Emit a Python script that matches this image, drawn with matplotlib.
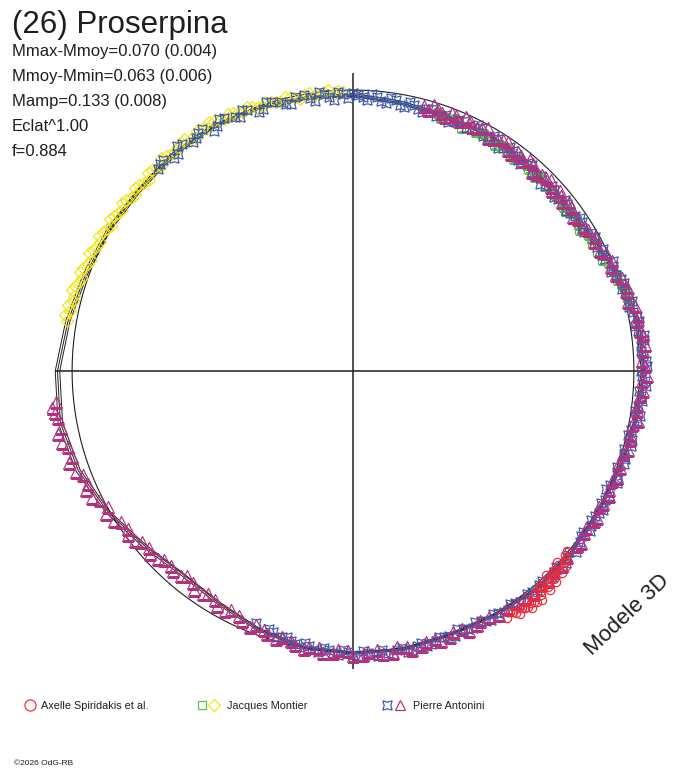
import matplotlib
matplotlib.use('Agg')
import matplotlib.pyplot as plt
import numpy as np
from matplotlib.lines import Line2D

plt.rcParams['font.family'] = ['Liberation Sans', 'DejaVu Sans']

# ---------------- data (phase angle in degrees, clockwise from top; radius relative to reference circle) -----
model_angle = [0, 10, 20, 30, 40, 50, 60, 70, 80, 90, 100, 110, 120, 130, 140, 150, 160, 170, 180,
               190, 200, 210, 220, 230, 240, 250, 260, 270, 280, 290, 300, 310, 320, 330, 340, 350, 360]
model_a = [.982, .970, .966, .970, .963, .960, .972, 1.004, 1.028, 1.032, 1.021, 1.011, 1.007, 1.011, 1.014,
           1.004, 1.000, 1.007, 1.004, 1.000, .979, .954, .943, .968, 1.006, 1.040, 1.058, 1.052, 1.030,
           1.012, 1.004, .996, 1.002, 1.003, .995, .985, .982]
model_b = [.988, .976, .971, .974, .967, .965, .978, 1.010, 1.034, 1.038, 1.026, 1.015, 1.011, 1.015, 1.018,
           1.009, 1.005, 1.011, 1.008, 1.004, .984, .960, .950, .975, 1.013, 1.048, 1.066, 1.060, 1.038,
           1.020, 1.011, 1.003, 1.008, 1.009, 1.001, .991, .988]
model_c = [.978, .965, .961, .965, .958, .956, .967, .998, 1.022, 1.027, 1.016, 1.007, 1.003, 1.007, 1.010,
           1.000, .996, 1.003, 1.000, .996, .975, .950, .940, .963, 1.000, 1.033, 1.050, 1.044, 1.023,
           1.006, .998, .990, .996, .998, .990, .980, .978]

ref_radius = 1.0
axis_extent = 1.06

# Pierre Antonini (blue), (angle, radius)
blue_pts = [
    (316, 1.000), (318, 1.012), (321, .992), (323, 1.010), (326, 1.000), (328, 1.016), (331, .998),
    (333, 1.012), (336, .990), (338, 1.004), (341, .985), (343, 1.000), (346, .980), (348, .998),
    (351, .984), (353, 1.000), (355, .978), (357, .995), (0, .990), (2, .975), (4, .988), (6, .968),
    (8, .982), (10, .962), (12, .978), (14, .960), (16, .972), (18, .956), (20, .970), (22, .958),
    (24, .976), (26, .963), (28, .978), (30, .960), (32, .974), (34, .957), (36, .969), (38, .954),
    (40, .967), (42, .951), (44, .965), (46, .949), (48, .964), (50, .954), (52, .967), (54, .957),
    (56, .974), (58, .961), (60, .980), (62, .970), (64, .990), (66, .982), (68, 1.000), (70, .995),
    (72, 1.015), (74, 1.008), (76, 1.025), (78, 1.018), (80, 1.035), (82, 1.025), (84, 1.040),
    (86, 1.028), (88, 1.042), (90, 1.025), (92, 1.040), (94, 1.022), (96, 1.035), (98, 1.015),
    (100, 1.028), (102, 1.010), (104, 1.022), (106, 1.005), (108, 1.018), (110, 1.002), (112, 1.016),
    (114, 1.000), (116, 1.014), (118, .998), (120, 1.012), (122, 1.000), (124, 1.016), (126, 1.002),
    (128, 1.018), (130, 1.004), (132, 1.020), (134, 1.006), (136, 1.018), (138, 1.008), (140, 1.020),
    (142, 1.006), (144, 1.016), (146, 1.000), (148, 1.012), (150, .998), (152, 1.008), (154, .994),
    (156, 1.006), (158, .992), (160, 1.004), (162, .995), (164, 1.012), (166, .998), (168, 1.014),
    (170, 1.000), (172, 1.016), (174, .998), (176, 1.014), (178, .996), (180, 1.012), (182, .994),
    (184, 1.008), (186, .990), (188, 1.002), (190, .985), (192, .995), (194, .976), (196, .985),
    (198, .965),
    (317, 1.008), (320, .990), (322, 1.018), (325, .995), (327, 1.010), (330, .988), (332, 1.015),
    (335, .996), (337, 1.008), (340, .982), (342, 1.006), (345, .990), (347, .975), (350, .996),
    (352, .972), (354, .990), (356, .968), (358, .985), (359, .972), (1, .984), (3, .966), (5, .980),
    (7, .962), (9, .978), (11, .956), (13, .972), (15, .953), (17, .975), (19, .960), (21, .948),
    (23, .970), (25, .953), (27, .982), (29, .956), (31, .976), (33, .948), (35, .973), (37, .960),
    (39, .946), (41, .970), (43, .956), (45, .943), (47, .968), (49, .946), (51, .970), (53, .948),
    (55, .963), (57, .973), (59, .958), (61, .984), (63, .974), (65, .978), (67, 1.004), (69, .985),
    (71, 1.008), (73, 1.000), (75, 1.018), (77, 1.010), (79, 1.030), (81, 1.018), (83, 1.045),
    (85, 1.030), (87, 1.035), (89, 1.048), (91, 1.030), (93, 1.045), (95, 1.028), (97, 1.022),
    (99, 1.035), (101, 1.018), (103, 1.005), (105, 1.025), (107, 1.010), (109, 1.020), (111, 1.005),
    (113, 1.020), (115, .995), (117, 1.008), (119, 1.018), (121, 1.004), (123, 1.010), (125, .998),
    (127, 1.012), (129, 1.022), (131, 1.010), (133, 1.024), (135, 1.012), (137, 1.025), (139, 1.010),
    (141, 1.012), (143, 1.022), (145, 1.008), (147, 1.015), (149, 1.005), (151, 1.012), (153, 1.000),
    (155, 1.010), (157, .998), (159, 1.010), (161, 1.000), (163, 1.005), (165, 1.015), (167, 1.005),
    (169, 1.018), (171, 1.005), (173, 1.010), (175, 1.018), (177, 1.005), (179, 1.016), (181, 1.002),
    (183, 1.014), (185, .998), (187, 1.008), (189, .992), (191, 1.000), (193, .988), (195, .980),
    (197, .972), (201, .962),
]

# Pierre Antonini (magenta triangles)
mag_pts = [
    (15, .975), (17, .990), (19, .970), (21, .985), (23, .968), (25, .982), (27, .972), (29, .988),
    (31, .965), (33, .980), (35, .962), (37, .978), (39, .960), (41, .975), (43, .958), (45, .972),
    (47, .962), (49, .975), (51, .958), (53, .970), (56, .965), (59, .978), (62, .975), (65, .995),
    (68, .992), (71, 1.012), (74, 1.015), (77, 1.030), (80, 1.025), (83, 1.040), (86, 1.035),
    (89, 1.040), (92, 1.030), (95, 1.025), (98, 1.022), (101, 1.010), (104, 1.015), (107, 1.005),
    (110, 1.010), (113, 1.002), (116, 1.012), (119, 1.000), (122, 1.010), (125, 1.004), (128, 1.014),
    (131, 1.008), (135, 1.012), (139, 1.010), (143, 1.012), (147, 1.005), (151, 1.000), (154, 1.008),
    (157, .996), (160, 1.006), (163, .996), (166, 1.010), (169, 1.000), (172, 1.012), (175, .998),
    (178, 1.010), (181, .996), (184, 1.006), (187, .992), (190, 1.004), (193, .986), (196, .992),
    (199, .975), (202, .982), (205, .962), (208, .968), (211, .952), (214, .958), (217, .945),
    (220, .952), (223, .948), (226, .965), (229, .962), (232, .985), (235, .978), (238, 1.005),
    (241, .998), (244, 1.032), (247, 1.025), (250, 1.050), (253, 1.045), (256, 1.066), (259, 1.060),
    (262, 1.072), (264, 1.064),
    (16, .968), (18, .980), (20, .962), (22, .978), (24, .990), (26, .965), (28, .978), (30, .958),
    (32, .972), (34, .985), (36, .955), (38, .970), (40, .982), (42, .952), (44, .968), (46, .978),
    (48, .955), (50, .968), (52, .975), (55, .958), (58, .970), (61, .985), (64, .978), (67, 1.002),
    (70, .998), (73, 1.020), (76, 1.010), (79, 1.035), (82, 1.030), (85, 1.045), (88, 1.030),
    (91, 1.045), (94, 1.035), (97, 1.018), (100, 1.030), (103, 1.012), (106, 1.020), (109, 1.002),
    (112, 1.015), (115, 1.005), (118, 1.008), (121, 1.015), (124, 1.000), (127, 1.018), (133, 1.018),
    (137, 1.020), (141, 1.022), (145, 1.010), (149, 1.012), (153, .998), (156, 1.012), (159, .994),
    (162, 1.010), (165, 1.000), (168, 1.015), (171, .996), (174, 1.012), (177, 1.000), (180, 1.014),
    (183, .994), (186, 1.008), (189, .996), (192, .998), (195, .982), (198, .985), (201, .968),
    (204, .975), (207, .955), (210, .965), (213, .945), (216, .962), (219, .940), (222, .958),
    (225, .952), (228, .972), (231, .968), (234, .992), (237, .985), (240, 1.015), (243, 1.010),
    (246, 1.040), (249, 1.030), (252, 1.062), (255, 1.050), (258, 1.075), (261, 1.062), (263, 1.078),
]

# Jacques Montier (yellow diamonds)
yel_pts = [
    (280, 1.035), (281, 1.045), (282, 1.030),
    (283, 1.040), (285, 1.030), (287, 1.035), (289, 1.022), (291, 1.028), (293, 1.015), (295, 1.022),
    (297, 1.010), (299, 1.018), (301, 1.005), (303, 1.015), (305, 1.002), (307, 1.010), (309, .998),
    (311, 1.008), (313, .995), (315, 1.010), (317, 1.000), (319, 1.015), (321, 1.005), (323, 1.018),
    (325, 1.008), (327, 1.020), (329, 1.010), (331, 1.018), (333, 1.005), (335, 1.012), (337, 1.000),
    (339, 1.008), (341, .995), (343, 1.002), (345, .990), (347, 1.000), (349, .988), (351, 1.002),
    (353, .992), (355, 1.005), (357, .998),
    (284, 1.028), (286, 1.042), (288, 1.025), (290, 1.035), (292, 1.018), (294, 1.030), (296, 1.012),
    (298, 1.025), (300, 1.010), (302, 1.020), (304, 1.008), (306, 1.018), (308, 1.002), (310, 1.015),
    (312, 1.000), (314, 1.014), (316, 1.004), (318, 1.020), (320, 1.010), (322, 1.012), (324, 1.022),
    (326, 1.002), (328, 1.015), (330, 1.022), (332, 1.010), (334, 1.018), (336, 1.004), (338, 1.012),
    (340, .998), (342, 1.008), (344, .995), (346, 1.004), (348, .992), (350, .998), (352, .988),
    (354, .998), (356, .990), (358, .995),
]

# Jacques Montier (green squares)
grn_pts = [
    (18, .965), (20, .958), (23, .962), (25, .955), (28, .960), (30, .952), (33, .958), (36, .950),
    (38, .958), (41, .952), (44, .955), (46, .948), (49, .955), (52, .950), (54, .958), (57, .955),
    (60, .965), (62, .962), (65, .978), (67, .985), (70, 1.000), (72, 1.005), (74, 1.015), (76, 1.018),
    (19, .952), (22, .968), (24, .948), (27, .955), (29, .965), (32, .948), (35, .960), (37, .945),
    (40, .958), (43, .945), (45, .960), (48, .948), (51, .958), (53, .946), (56, .962), (58, .950),
    (61, .970), (64, .968), (66, .972), (69, .990), (71, .995), (73, 1.008), (75, 1.010),
]

# Axelle Spiridakis et al. (red circles)
red_pts = [
    (131, 1.000), (132, 1.015), (133, .995), (134, 1.020), (135, 1.008), (136, 1.030), (137, 1.012),
    (138, 1.035), (139, 1.018), (140, 1.040), (141, 1.022), (142, 1.045), (143, 1.028), (144, 1.042),
    (145, 1.030), (146, 1.038), (147, 1.025), (138.5, 1.026), (141.5, 1.050), (143.5, 1.046),
    (134.5, 1.010), (136.5, 1.022),
    (130, .995), (131.5, 1.012), (132.5, 1.028), (133.5, 1.005), (134, 1.035), (135.5, 1.018),
    (136, 1.042), (137.5, 1.025), (138, 1.048), (139.5, 1.030), (140.5, 1.055), (141, 1.028),
    (142.5, 1.040), (143, 1.058), (144.5, 1.035), (145.5, 1.048), (146.5, 1.030), (148, 1.035),
    (136.5, 1.000), (139, 1.015),
]

info_lines = ["Mmax-Mmoy=0.070 (0.004)", "Mmoy-Mmin=0.063 (0.006)", "Mamp=0.133 (0.008)",
              "Eclat^1.00", "f=0.884"]

# ---------------- figure -----------------------------------------------------------------------------------
W, H = 688, 768
fig = plt.figure(figsize=(W / 100, H / 100), dpi=100)
fig.patch.set_facecolor('white')
ax = fig.add_axes([44 / W, 88 / H, 618 / W, 618 / H], projection='polar')
ax.set_theta_zero_location('N')
ax.set_theta_direction(-1)
ax.set_rlim(0, 1.1)
ax.set_axis_off()

rad = np.deg2rad
ink = '#1e1e1e'

# axes cross
for a in (0, 90, 180, 270):
    ax.plot([rad(a), rad(a)], [0, axis_extent], color=ink, lw=1.1, zorder=2, solid_capstyle='butt')

# reference circle
circ_t = np.deg2rad(np.arange(0, 361, 2))
ax.plot(circ_t, np.full(circ_t.shape, ref_radius), color=ink, lw=0.8, zorder=2)

# model curves
for m in (model_a, model_b, model_c):
    ax.plot(rad(np.array(model_angle)), m, color=ink, lw=0.7, zorder=3)

def split(pts):
    a = np.array([p[0] for p in pts], dtype=float)
    r = np.array([p[1] for p in pts], dtype=float)
    return rad(a), r

mew = 0.85
c_blue, c_mag, c_grn, c_yel, c_red = '#3a58ab', '#b4317f', '#5ebd4c', '#f1e414', '#ee2a36'
t, r = split(yel_pts)
ax.plot(t, r, ls='none', marker='D', ms=6, mfc='none', mec=c_yel, mew=mew, zorder=4)
t, r = split(grn_pts)
ax.plot(t, r, ls='none', marker='s', ms=6, mfc='none', mec=c_grn, mew=mew, zorder=4)
t, r = split(blue_pts)
ax.plot(t, r, ls='none', marker=(4, 1, 45), ms=9.5, mfc='none', mec=c_blue, mew=mew, zorder=5)
t, r = split(mag_pts)
ax.plot(t, r, ls='none', marker='^', ms=8.5, mfc='none', mec=c_mag, mew=mew, zorder=6)
t, r = split(red_pts)
ax.plot(t, r, ls='none', marker='o', ms=6, mfc='none', mec=c_red, mew=mew, zorder=7)

# ---------------- texts ------------------------------------------------------------------------------------
def fy(py):
    return 1 - py / H

fig.text(12 / W, fy(33), "(26) Proserpina", fontsize=22.5, color=ink, va='baseline', ha='left')
for i, s in enumerate(info_lines):
    fig.text(12 / W, fy(56 + 25 * i), s, fontsize=12, color=ink, va='baseline', ha='left')

fig.text(627 / W, fy(615), "Modele 3D", fontsize=16, color=ink, rotation=43.5,
         ha='center', va='center', rotation_mode='anchor')

# legend
leg_y = fy(705)
def fmark(px, marker, ms, col):
    fig.add_artist(Line2D([px / W], [leg_y], transform=fig.transFigure, ls='none', marker=marker, ms=ms,
                          mfc='none', mec=col, mew=mew))

fmark(30, 'o', 8, c_red)
fig.text(41 / W, fy(709), "Axelle Spiridakis et al.", fontsize=7.8, color=ink, va='baseline')
fmark(202, 's', 5.5, c_grn)
fmark(214, 'D', 6, c_yel)
fig.text(227 / W, fy(709), "Jacques Montier", fontsize=7.8, color=ink, va='baseline')
fmark(387, (4, 1, 45), 9.5, c_blue)
fmark(400, '^', 7.5, c_mag)
fig.text(413 / W, fy(709), "Pierre Antonini", fontsize=7.8, color=ink, va='baseline')

fig.text(14 / W, fy(765), "\u00a92026 OdG-RB", fontsize=6, color=ink, va='baseline')

fig.savefig('out.png', dpi=100, facecolor='white')
